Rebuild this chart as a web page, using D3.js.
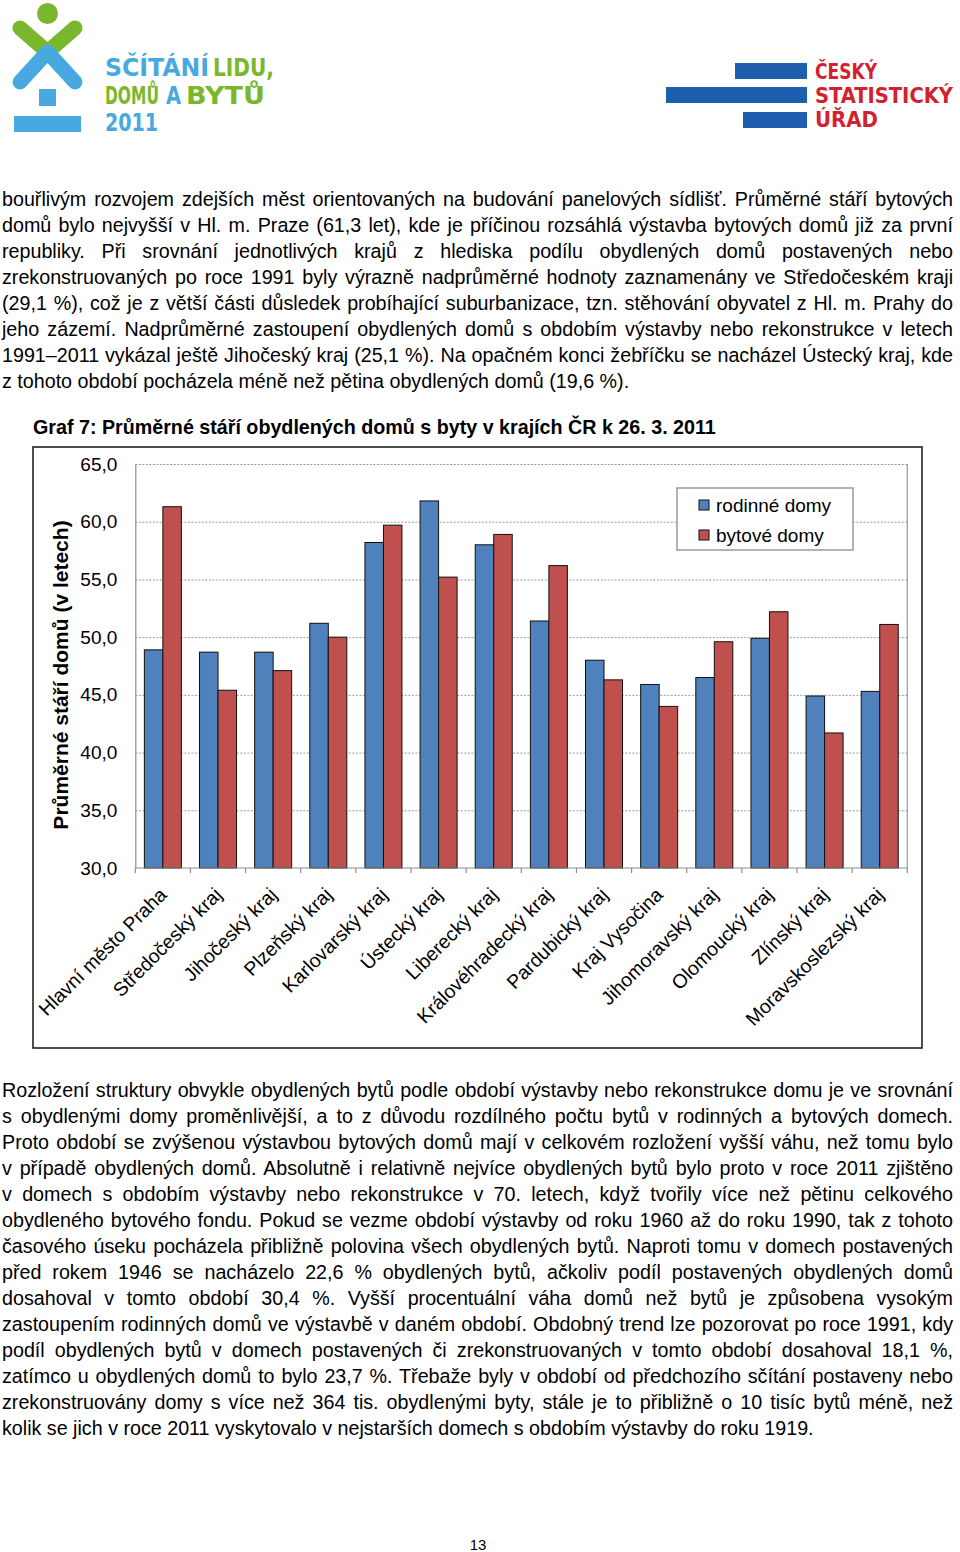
<!DOCTYPE html>
<html>
<head>
<meta charset="utf-8">
<script src="https://cdn.jsdelivr.net/npm/d3@7"></script>
<style>
  body { margin: 0; background: #fff; }
  svg text { font-family: Arial, "Liberation Sans", sans-serif; }
</style>
</head>
<body>
<svg id="page" width="960" height="1552"></svg>
<script>
// data (Graf 7)
var categories = ["Hlavní město Praha", "Středočeský kraj", "Jihočeský kraj", "Plzeňský kraj",
  "Karlovarský kraj", "Ústecký kraj", "Liberecký kraj", "Královéhradecký kraj", "Pardubický kraj",
  "Kraj Vysočina", "Jihomoravský kraj", "Olomoucký kraj", "Zlínský kraj", "Moravskoslezský kraj"];
var rodinneDomy = [48.9, 48.7, 48.7, 51.2, 58.2, 61.8, 58.0, 51.4, 48.0, 45.9, 46.5, 49.9, 44.9, 45.3];
var bytoveDomy = [61.3, 45.4, 47.1, 50.0, 59.7, 55.2, 58.9, 56.2, 46.3, 44.0, 49.6, 52.2, 41.7, 51.1];
var seriesNames = ["rodinné domy", "bytové domy"];
var seriesColors = ["#4f81bd", "#c0504d"];
var yTicks = [30, 35, 40, 45, 50, 55, 60, 65];

var chartTitle = "Graf 7: Průměrné stáří obydlených domů s byty v krajích ČR k 26. 3. 2011";
var yTitle = "Průměrné stáří domů (v letech)";

var para1 = [
  "bouřlivým rozvojem zdejších měst orientovaných na budování panelových sídlišť. Průměrné stáří bytových",
  "domů bylo nejvyšší v Hl. m. Praze (61,3 let), kde je příčinou rozsáhlá výstavba bytových domů již za první",
  "republiky. Při srovnání jednotlivých krajů z hlediska podílu obydlených domů postavených nebo",
  "zrekonstruovaných po roce 1991 byly výrazně nadprůměrné hodnoty zaznamenány ve Středočeském kraji",
  "(29,1 %), což je z větší části důsledek probíhající suburbanizace, tzn. stěhování obyvatel z Hl. m. Prahy do",
  "jeho zázemí. Nadprůměrné zastoupení obydlených domů s obdobím výstavby nebo rekonstrukce v letech",
  "1991–2011 vykázal ještě Jihočeský kraj (25,1 %). Na opačném konci žebříčku se nacházel Ústecký kraj, kde",
  "z tohoto období pocházela méně než pětina obydlených domů (19,6 %)."
];
var para2 = [
  "Rozložení struktury obvykle obydlených bytů podle období výstavby nebo rekonstrukce domu je ve srovnání",
  "s obydlenými domy proměnlivější, a to z důvodu rozdílného počtu bytů v rodinných a bytových domech.",
  "Proto období se zvýšenou výstavbou bytových domů mají v celkovém rozložení vyšší váhu, než tomu bylo",
  "v případě obydlených domů. Absolutně i relativně nejvíce obydlených bytů bylo proto v roce 2011 zjištěno",
  "v domech s obdobím výstavby nebo rekonstrukce v 70. letech, když tvořily více než pětinu celkového",
  "obydleného bytového fondu. Pokud se vezme období výstavby od roku 1960 až do roku 1990, tak z tohoto",
  "časového úseku pocházela přibližně polovina všech obydlených bytů. Naproti tomu v domech postavených",
  "před rokem 1946 se nacházelo 22,6 % obydlených bytů, ačkoliv podíl postavených obydlených domů",
  "dosahoval v tomto období 30,4 %. Vyšší procentuální váha domů než bytů je způsobena vysokým",
  "zastoupením rodinných domů ve výstavbě v daném období. Obdobný trend lze pozorovat po roce 1991, kdy",
  "podíl obydlených bytů v domech postavených či zrekonstruovaných v tomto období dosahoval 18,1 %,",
  "zatímco u obydlených domů to bylo 23,7 %. Třebaže byly v období od předchozího sčítání postaveny nebo",
  "zrekonstruovány domy s více než 364 tis. obydlenými byty, stále je to přibližně o 10 tisíc bytů méně, než",
  "kolik se jich v roce 2011 vyskytovalo v nejstarších domech s obdobím výstavby do roku 1919."
];

var svg = d3.select("#page");

// ---------- logos ----------
var blueL = "#47a9e0", greenL = "#7ab72d";
var logo = svg.append("g");
logo.append("circle").attr("cx", 47.5).attr("cy", 13.5).attr("r", 10.5).attr("fill", greenL);
[[20, 28], [75, 28]].forEach(function (p) {
  logo.append("line").attr("x1", p[0]).attr("y1", p[1]).attr("x2", 47.5).attr("y2", 52)
    .attr("stroke", greenL).attr("stroke-width", 15).attr("stroke-linecap", "round");
});
[[20, 82], [75, 82]].forEach(function (p) {
  logo.append("line").attr("x1", 47.5).attr("y1", 52).attr("x2", p[0]).attr("y2", p[1])
    .attr("stroke", blueL).attr("stroke-width", 15).attr("stroke-linecap", "round");
});
logo.append("rect").attr("x", 39).attr("y", 89).attr("width", 17).attr("height", 17).attr("fill", blueL);
logo.append("rect").attr("x", 14).attr("y", 116).attr("width", 67).attr("height", 16).attr("fill", blueL);

function logoWord(x, y, txt, len, col) {
  logo.append("text").attr("x", x).attr("y", y).text(txt)
    .attr("fill", col).attr("font-size", 24).attr("font-weight", "bold")
    .style("font-family", "'DejaVu Sans Condensed', 'DejaVu Sans', sans-serif")
    .attr("textLength", len).attr("lengthAdjust", "spacingAndGlyphs");
}
logoWord(105, 76, "SČÍTÁNÍ", 104, blueL);
logoWord(213, 76, "LIDU,", 61, greenL);
logoWord(105, 104, "DOMŮ", 54, greenL);
logoWord(166, 104, "A", 15, blueL);
logoWord(186, 104, "BYTŮ", 79, greenL);
logoWord(105, 131, "2011", 53, blueL);

var csuBlue = "#1d5fae", csuRed = "#d3222f";
[[735, 63, 72], [666, 87, 141], [743, 112, 64]].forEach(function (b) {
  svg.append("rect").attr("x", b[0]).attr("y", b[1]).attr("width", b[2]).attr("height", 16).attr("fill", csuBlue);
});
[["ČESKÝ", 79, 62], ["STATISTICKÝ", 103, 138], ["ÚŘAD", 127, 63]].forEach(function (t) {
  svg.append("text").attr("x", 815).attr("y", t[1]).text(t[0])
    .attr("fill", csuRed).attr("font-size", 21).attr("font-weight", "bold")
    .style("font-family", "'DejaVu Sans Condensed', 'DejaVu Sans', sans-serif")
    .attr("textLength", t[2]).attr("lengthAdjust", "spacingAndGlyphs");
});

// ---------- justified paragraphs ----------
function paragraph(lines, x0, width, y0, lh) {
  lines.forEach(function (line, i) {
    var t = svg.append("text").attr("x", x0).attr("y", y0 + i * lh)
      .attr("font-size", 19.7).attr("fill", "#000").text(line);
    if (i < lines.length - 1) {
      var w = t.node().getComputedTextLength();
      var spaces = line.split(" ").length - 1;
      var extra = (width - w) / spaces;
      if (extra >= 0) t.attr("word-spacing", extra);
      else t.attr("textLength", width).attr("lengthAdjust", "spacing");
    }
  });
}
paragraph(para1, 2, 951, 206, 26);
paragraph(para2, 2, 951, 1097, 26);

svg.append("text").attr("x", 478).attr("y", 1550).attr("text-anchor", "middle")
  .attr("font-size", 15).text("13");

// ---------- chart ----------
svg.append("text").attr("x", 33).attr("y", 434).attr("font-size", 19.7)
  .attr("font-weight", "bold").text(chartTitle);

svg.append("rect").attr("x", 33).attr("y", 447).attr("width", 889).attr("height", 601)
  .attr("fill", "#fff").attr("stroke", "#222").attr("stroke-width", 1.6);

var plotLeft = 135.3, plotRight = 907.3, plotTop = 464, plotBottom = 868;

var y = d3.scaleLinear().domain([30, 65]).range([plotBottom, plotTop]);
var x = d3.scaleBand().domain(categories).range([plotLeft, plotRight]).padding(0);
var xs = d3.scaleBand().domain(seriesNames).range([0, x.bandwidth()])
  .paddingInner(0).paddingOuter(0.49);

var chart = svg.append("g");

// grid lines
chart.append("g").selectAll("line").data(yTicks.slice(1)).join("line")
  .attr("x1", plotLeft).attr("x2", plotRight)
  .attr("y1", function (d) { return y(d) + 0.5; }).attr("y2", function (d) { return y(d) + 0.5; })
  .attr("stroke", "#9a9a9a").attr("stroke-width", 1).attr("stroke-dasharray", "2,1.5");

// right border of plot
chart.append("line").attr("x1", plotRight).attr("x2", plotRight).attr("y1", plotTop).attr("y2", plotBottom)
  .attr("stroke", "#9a9a9a").attr("stroke-width", 1.2);

// bars
var rows = categories.map(function (c, i) {
  return { cat: c, values: [rodinneDomy[i], bytoveDomy[i]] };
});
var groups = chart.append("g").selectAll("g").data(rows).join("g")
  .attr("transform", function (d) { return "translate(" + x(d.cat) + ",0)"; });
groups.selectAll("rect").data(function (d) {
  return d.values.map(function (v, k) { return { name: seriesNames[k], value: v, k: k }; });
}).join("rect")
  .attr("x", function (d) { return xs(d.name); })
  .attr("width", xs.bandwidth())
  .attr("y", function (d) { return y(d.value); })
  .attr("height", function (d) { return y(30) - y(d.value); })
  .attr("fill", function (d) { return seriesColors[d.k]; })
  .attr("stroke", "#111").attr("stroke-width", 1);

// y axis
var yAxis = d3.axisLeft(y).tickValues(yTicks).tickSize(0).tickPadding(18)
  .tickFormat(function (d) { return d3.format(".1f")(d).replace(".", ","); });
var gy = chart.append("g").attr("transform", "translate(" + plotLeft + ",0)").call(yAxis);
gy.select(".domain").attr("stroke", "#8c8c8c").attr("stroke-width", 1.2);
gy.selectAll("text").attr("font-size", 19).attr("fill", "#000")
  .style("font-family", "Arial, 'Liberation Sans', sans-serif");

// x axis with ticks between categories
var gx = chart.append("g");
gx.append("line").attr("x1", plotLeft).attr("x2", plotRight).attr("y1", plotBottom).attr("y2", plotBottom)
  .attr("stroke", "#8c8c8c").attr("stroke-width", 1.2);
var bounds = categories.map(function (c) { return x(c); }).concat([x.range()[1]]);
gx.selectAll("line.tick").data(bounds).join("line").attr("class", "tick")
  .attr("x1", function (d) { return d; }).attr("x2", function (d) { return d; })
  .attr("y1", plotBottom).attr("y2", plotBottom + 5)
  .attr("stroke", "#8c8c8c").attr("stroke-width", 1.2);
gx.selectAll("text").data(categories).join("text")
  .attr("transform", function (d) {
    return "translate(" + (x(d) + x.bandwidth() / 2 + 5) + "," + (plotBottom + 28) + ") rotate(-45)";
  })
  .attr("text-anchor", "end").attr("font-size", 19.5).text(function (d) { return d; });

// y title
svg.append("text").attr("transform", "translate(68,675) rotate(-90)")
  .attr("text-anchor", "middle").attr("font-size", 21).attr("font-weight", "bold")
  .text(yTitle);

// legend
var lg = svg.append("g").attr("transform", "translate(677,488)");
lg.append("rect").attr("width", 176).attr("height", 62).attr("fill", "#fff")
  .attr("stroke", "#9a9a9a").attr("stroke-width", 1.5);
seriesNames.forEach(function (n, k) {
  lg.append("rect").attr("x", 22).attr("y", 12 + k * 30).attr("width", 10).attr("height", 10)
    .attr("fill", seriesColors[k]).attr("stroke", "#111").attr("stroke-width", 1);
  lg.append("text").attr("x", 39).attr("y", 24 + k * 30).attr("font-size", 19).text(n);
});
</script>
</body>
</html>
